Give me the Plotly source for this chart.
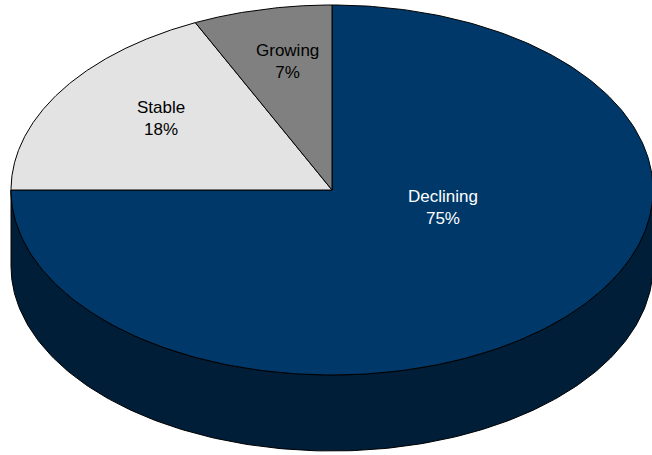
import numpy as np
import plotly.graph_objects as go

# Share of items by trend, drawn clockwise from 12 o'clock
categories = ["Declining", "Stable", "Growing"]
shares = [75, 18, 7]

top_colors = ["#00386A", "#E3E3E3", "#808080"]
side_colors = ["#001E38", "#9A9A9A", "#555555"]
text_colors = ["#FFFFFF", "#000000", "#000000"]
# label placement as fraction of the radii (horizontal, vertical)
label_r = [(0.49, 0.13), (0.63, 0.72), (0.64, 0.71)]

W, H = 652, 455
CX, CY = 332, 190      # centre of the top face
A, B = 321, 185        # ellipse radii of the top face
DEPTH = 76             # thickness of the disc


def pt(theta_deg, rx=1.0, ry=1.0, dy=0.0):
    """Point on the projected ellipse; theta measured clockwise from 12 o'clock."""
    t = np.radians(theta_deg)
    return CX + A * rx * np.sin(t), CY - B * ry * np.cos(t) + dy


fig = go.Figure()

total = sum(shares)
starts, ends = [], []
acc = 0.0
for s in shares:
    starts.append(acc / total * 360)
    acc += s
    ends.append(acc / total * 360)

# Side wall: only the front half (90..270 deg) is visible
for i in range(len(shares)):
    a0 = max(starts[i], 90)
    a1 = min(ends[i], 270)
    if a1 <= a0:
        continue
    th = np.linspace(a0, a1, 200)
    xt, yt = pt(th)
    xb, yb = pt(th[::-1], dy=DEPTH)
    fig.add_trace(go.Scatter(
        x=np.concatenate([xt, xb, xt[:1]]),
        y=np.concatenate([yt, yb, yt[:1]]),
        mode="lines", fill="toself", fillcolor=side_colors[i],
        line=dict(color="#000000", width=1), hoverinfo="skip", showlegend=False))

# Top face slices
for i in range(len(shares)):
    th = np.linspace(starts[i], ends[i], 300)
    xa, ya = pt(th)
    fig.add_trace(go.Scatter(
        x=np.concatenate([[CX], xa, [CX]]),
        y=np.concatenate([[CY], ya, [CY]]),
        mode="lines", fill="toself", fillcolor=top_colors[i],
        line=dict(color="#000000", width=1), hoverinfo="skip", showlegend=False))

# Category labels
for i, name in enumerate(categories):
    mid = (starts[i] + ends[i]) / 2
    lx, ly = pt(mid, label_r[i][0], label_r[i][1])
    fig.add_annotation(
        x=lx, y=ly, xref="x", yref="y",
        text=f"{name}<br>{shares[i]}%", showarrow=False,
        font=dict(family="Liberation Sans, Arial, sans-serif", size=17,
                  color=text_colors[i]),
        align="center")

fig.update_layout(
    width=W, height=H,
    margin=dict(l=0, r=0, t=0, b=0),
    paper_bgcolor="#FFFFFF", plot_bgcolor="#FFFFFF",
    xaxis=dict(range=[0, W], visible=False, fixedrange=True),
    yaxis=dict(range=[H, 0], visible=False, fixedrange=True),
)

fig.write_html("out.html")
